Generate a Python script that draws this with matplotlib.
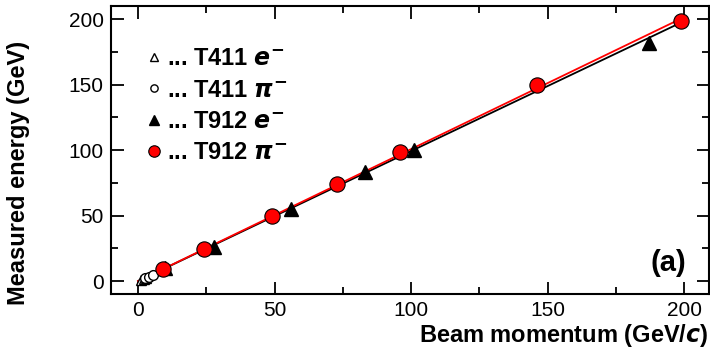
import matplotlib

matplotlib.use("Agg")
import matplotlib.pyplot as plt
from matplotlib.ticker import MultipleLocator

plt.rcParams["font.family"] = ["Liberation Sans", "DejaVu Sans"]
plt.rcParams["mathtext.fontset"] = "custom"
plt.rcParams["mathtext.it"] = "DejaVu Sans:italic:bold"
plt.rcParams["mathtext.rm"] = "DejaVu Sans:bold"

# T411 test beam (low momentum)
t411_e_p = [1.0, 2.0, 3.0]
t411_e_E = [0.5, 1.5, 2.5]
t411_pi_p = [2.5, 4.0, 5.5]
t411_pi_E = [2.0, 3.0, 4.5]

# T912 test beam
t912_e_p = [10, 28, 56, 83, 101, 187]
t912_e_E = [10, 26, 55, 83, 100, 182]
t912_pi_p = [9, 24, 49, 73, 96, 146, 199]
t912_pi_E = [9.5, 24.5, 49.5, 74.5, 98.5, 149.5, 198.5]

# linear fits
fit_x = [0, 200]
fit_e = [0, 198.5]
fit_pi = [0, 201.5]

fig = plt.figure(figsize=(7.1, 3.57), dpi=100)
ax = fig.add_axes([0.156, 0.176, 0.842, 0.807])

ax.plot(fit_x, fit_e, color="black", lw=1.3, zorder=2)
ax.plot(fit_x, fit_pi, color="red", lw=1.3, zorder=2)

h1, = ax.plot(t411_e_p, t411_e_E, "^", ms=7, mfc="white", mec="black", mew=1.0, ls="none", zorder=3)
h2, = ax.plot(t411_pi_p, t411_pi_E, "o", ms=7, mfc="white", mec="black", mew=1.0, ls="none", zorder=3)
h3, = ax.plot(t912_e_p, t912_e_E, "^", ms=10, mfc="black", mec="black", ls="none", zorder=4)
h4, = ax.plot(t912_pi_p, t912_pi_E, "o", ms=11, mfc="red", mec="black", mew=0.8, ls="none", zorder=4)

leg = ax.legend([h1, h2, h3, h4],
                [r"... T411 $e^{-}$", r"... T411 $\pi^{-}$",
                 r"... T912 $e^{-}$", r"... T912 $\pi^{-}$"],
                loc="upper left", bbox_to_anchor=(0.025, 0.93), frameon=False,
                prop={"size": 17, "weight": "bold"}, handlelength=0.6,
                handletextpad=0.25, labelspacing=0.35, borderaxespad=0.5,
                markerscale=0.75)

ax.set_xlim(-10, 209)
ax.set_ylim(-10, 210)
ax.xaxis.set_major_locator(MultipleLocator(50))
ax.xaxis.set_minor_locator(MultipleLocator(25))
ax.yaxis.set_major_locator(MultipleLocator(50))
ax.yaxis.set_minor_locator(MultipleLocator(25))
ax.tick_params(which="both", direction="in", top=True, right=True, width=1.3)
ax.tick_params(which="major", length=9, labelsize=15, pad=5)
ax.tick_params(which="minor", length=5)
for s in ax.spines.values():
    s.set_linewidth(1.5)

ax.set_xlabel("Beam momentum (GeV/$c$)", fontsize=17, fontweight="bold", loc="right", labelpad=1)
ax.set_ylabel("Measured energy (GeV)", fontsize=17, fontweight="bold")
ax.yaxis.set_label_coords(-0.135, 0.42)
ax.text(0.963, 0.06, "(a)", transform=ax.transAxes, ha="right", va="bottom",
        fontsize=21, fontweight="bold")

fig.savefig("out.png", dpi=100)
